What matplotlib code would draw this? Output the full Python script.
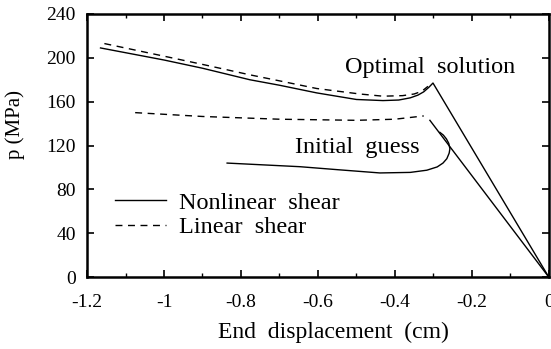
import matplotlib
matplotlib.use("Agg")
import matplotlib.pyplot as plt
from matplotlib.ticker import MultipleLocator

# ---------- DATA ----------

# optimal solution, nonlinear shear (solid)
opt_nl_x = [-1.165, -1.0, -0.9, -0.777, -0.7, -0.603, -0.5, -0.431, -0.39, -0.36,
            -0.34, -0.325, -0.312, -0.301, 0.0]
opt_nl_p = [209, 198, 190.5, 180, 175, 168, 162, 161, 161.5, 163.5,
            166, 169, 173, 177, 0]

# optimal solution, linear shear (dashed)
opt_lin_x = [-1.155, -1.0, -0.9, -0.777, -0.7, -0.603, -0.491, -0.431, -0.38, -0.35, -0.33, -0.314]
opt_lin_p = [213, 201.5, 194, 184.5, 179, 172, 167, 165, 165.5, 167, 169.5, 174]

# initial guess, linear shear (dashed)
init_lin_x = [-1.075, -0.9, -0.7, -0.5, -0.4, -0.325]
init_lin_p = [150, 146.5, 144, 143, 144, 147]

# initial guess, loading branch (solid)
init_load_x = [-0.309, 0.0]
init_load_p = [143, 0]

# initial guess, nonlinear shear (solid)
init_nl_x = [-0.836, -0.75, -0.647, -0.55, -0.439, -0.36, -0.317, -0.29, -0.275,
             -0.265, -0.259, -0.257, -0.26, -0.266, -0.274, -0.283]
init_nl_p = [104, 102.5, 100.7, 98, 95, 95.5, 97.5, 100.5, 104,
             108, 113, 117, 122, 126, 129.5, 132]

x_ticks = [-1.2, -1.0, -0.8, -0.6, -0.4, -0.2, 0.0]
x_tick_labels = ["-1.2", "-1", "-0.8", "-0.6", "-0.4", "-0.2", "0"]
y_ticks = [0, 40, 80, 120, 160, 200, 240]

# ---------- PLOT ----------

plt.rcParams["font.family"] = ["Liberation Serif", "DejaVu Serif"]

fig = plt.figure(figsize=(5.51, 3.49), dpi=100)
ax = fig.add_axes([0.158, 0.206, 0.838, 0.754])

lw = 1.0
dash = (0, (5, 4))
ax.plot(opt_nl_x, opt_nl_p, color="black", lw=lw, label="Nonlinear  shear")
ax.plot(opt_lin_x, opt_lin_p, color="black", lw=lw, ls=dash, label="Linear  shear")
ax.plot(init_lin_x, init_lin_p, color="black", lw=lw, ls=dash)
ax.plot(init_load_x, init_load_p, color="black", lw=lw)
ax.plot(init_nl_x, init_nl_p, color="black", lw=lw)

ax.text(-0.53, 191, "Optimal  solution", fontsize=17.5, va="center", ha="left")
ax.text(-0.66, 118, "Initial  guess", fontsize=17.5, va="center", ha="left")

ax.legend(loc="center left", bbox_to_anchor=(0.06, 0.236), frameon=False,
          fontsize=17.5, handlelength=2.1, handletextpad=0.55, labelspacing=0.1,
          borderpad=0, borderaxespad=0)

ax.set_xlim(-1.2, 0)
ax.set_ylim(0, 240)
ax.set_xticks(x_ticks)
ax.set_xticklabels(x_tick_labels)
ax.set_yticks(y_ticks)
ax.xaxis.set_minor_locator(MultipleLocator(0.1))

ax.tick_params(which="both", direction="in", top=True, right=True, labelsize=14)
ax.tick_params(which="major", length=5, width=1.2)
ax.tick_params(which="minor", length=3, width=1.0)
ax.tick_params(axis="x", pad=12)
ax.tick_params(axis="y", pad=8)

for s in ax.spines.values():
    s.set_linewidth(1.8)

ax.set_xlabel("End  displacement  (cm)", fontsize=17)
ax.xaxis.set_label_coords(0.533, -0.17)
ax.set_ylabel("p (MPa)", fontsize=15)
ax.yaxis.set_label_coords(-0.135, 0.58)

fig.savefig("out.png", dpi=100)
